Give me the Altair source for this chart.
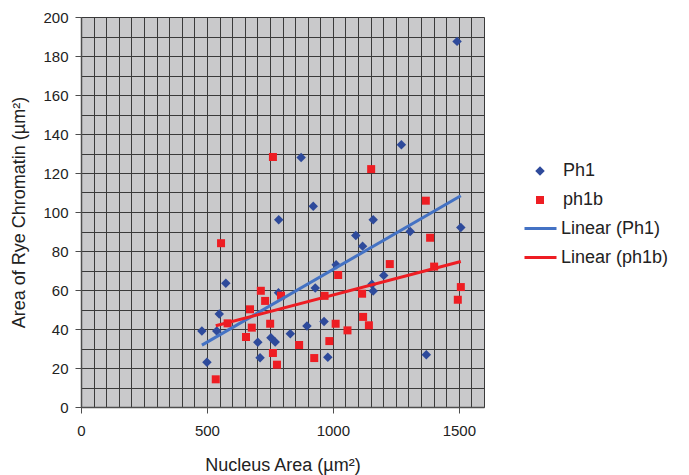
import altair as alt
import pandas as pd

# ---- data ----
ph1_x = [1493, 1508, 1272, 874, 922, 785, 1160, 1091, 1118, 1307, 1013, 1202, 575, 930, 1155,
         1160, 784, 549, 480, 539, 702, 754, 771, 831, 897, 965, 711, 500, 980, 1371]
ph1_y = [187.5, 92, 134.5, 128, 103, 96, 96, 88, 82.5, 90, 73, 67.5, 63.5, 61, 63,
         59.5, 58.6, 47.7, 39, 39, 33.2, 35.5, 33.3, 37.6, 41.5, 43.8, 25.3, 23, 25.5, 26.8]
ph1b_x = [762, 1152, 1369, 1386, 556, 1226, 1021, 1402, 714, 731, 794, 967, 1116, 1508, 1496,
          671, 582, 678, 751, 1120, 1143, 1011, 1058, 655, 866, 986, 762, 778, 926, 535]
ph1b_y = [128.2, 122, 105.8, 86.8, 84, 73.3, 67.7, 72, 59.6, 54.4, 57.1, 57, 58.1, 61.5, 55,
          50.1, 42.9, 40.7, 42.7, 46.2, 41.9, 42.7, 39.3, 35.9, 31.8, 33.8, 27.7, 21.7, 25.1, 14.2]
series_names = ["Ph1", "ph1b"]
trend_names = ["Linear (Ph1)", "Linear (ph1b)"]
x_ticks = list(range(0, 1601, 50))
y_ticks = list(range(0, 201, 10))

df = pd.DataFrame({
    "x": ph1_x + ph1b_x,
    "y": ph1_y + ph1b_y,
    "series": [series_names[0]] * len(ph1_x) + [series_names[1]] * len(ph1b_x),
})

FONT = "Liberation Sans"
DARK = "#4d4d4d"
GRID = "#3a3a3a"
BLUE_PT = "#2E4A9B"
RED = "#EE1D23"
BLUE_LN = "#4472C4"

xscale = alt.Scale(domain=[0, 1600], nice=False, zero=False)
yscale = alt.Scale(domain=[0, 200], nice=False, zero=False)

xaxis = alt.Axis(
    values=x_ticks, format="d", labelOverlap=False, labelFlush=False,
    labelExpr="datum.value % 500 === 0 ? datum.label : ''",
    tickColor={"condition": {"test": "datum.value % 500 === 0", "value": DARK}, "value": "transparent"},
    tickSize=6, labelPadding=10, titlePadding=18,
    grid=True, gridColor=GRID, gridWidth=1, gridOpacity=1,
    domainColor=DARK, domainWidth=1.5,
)
yaxis = alt.Axis(
    values=y_ticks, format="d", labelOverlap=False, labelFlush=False,
    labelExpr="datum.value % 20 === 0 ? datum.label : ''",
    tickColor={"condition": {"test": "datum.value % 20 === 0", "value": DARK}, "value": "transparent"},
    tickSize=6, labelPadding=7, titlePadding=14,
    grid=True, gridColor=GRID, gridWidth=1, gridOpacity=1,
    domainColor=DARK, domainWidth=1.5,
)

leg_pts = alt.Legend(title=None, orient="none", legendX=450, legendY=145, padding=0,
                     symbolSize=81, rowPadding=11, labelOffset=14, symbolStrokeWidth=0)
leg_lines = alt.Legend(title=None, orient="none", legendX=450, legendY=202, padding=0,
                       symbolType="M-2,0L2,0", symbolSize=256, symbolStrokeWidth=3,
                       rowPadding=10, labelOffset=11)

X_TITLE = "Nucleus Area (µm²)"
Y_TITLE = "Area of Rye Chromatin (µm²)"

points = alt.Chart(df).mark_point(filled=True, opacity=1).encode(
    x=alt.X("x:Q", scale=xscale, axis=xaxis, title=X_TITLE),
    y=alt.Y("y:Q", scale=yscale, axis=yaxis, title=Y_TITLE),
    color=alt.Color("series:N", scale=alt.Scale(domain=series_names, range=[BLUE_PT, RED]), legend=leg_pts),
    shape=alt.Shape("series:N", scale=alt.Scale(domain=series_names, range=["diamond", "square"]), legend=leg_pts),
    size=alt.Size("series:N", scale=alt.Scale(domain=series_names, range=[90, 64]), legend=None),
)

lines = alt.Chart(df).transform_regression(
    "x", "y", groupby=["series"]
).transform_calculate(
    trend='"Linear (" + datum.series + ")"'
).mark_line(strokeWidth=3).encode(
    x=alt.X("x:Q", scale=xscale, axis=xaxis, title=X_TITLE),
    y=alt.Y("y:Q", scale=yscale, axis=yaxis, title=Y_TITLE),
    stroke=alt.Stroke("trend:N", scale=alt.Scale(domain=trend_names, range=[BLUE_LN, RED]), legend=leg_lines),
)

chart = alt.layer(points, lines).properties(
    width=403, height=390,
    autosize=alt.AutoSizeParams(type="none"),
    padding={"left": 73, "top": 9, "right": 190, "bottom": 72},
    background="white",
).configure_view(
    fill="#C9C9CB", stroke="#dddddd", strokeWidth=1,
).configure_axis(
    labelFont=FONT, labelFontSize=15, labelColor="#222222",
    titleFont=FONT, titleFontSize=18, titleColor="#222222", titleFontWeight="normal",
).configure_legend(
    labelFont=FONT, labelFontSize=18, labelColor="#222222",
)

chart.save("out.html", embed_options={"renderer": "svg", "actions": False})
